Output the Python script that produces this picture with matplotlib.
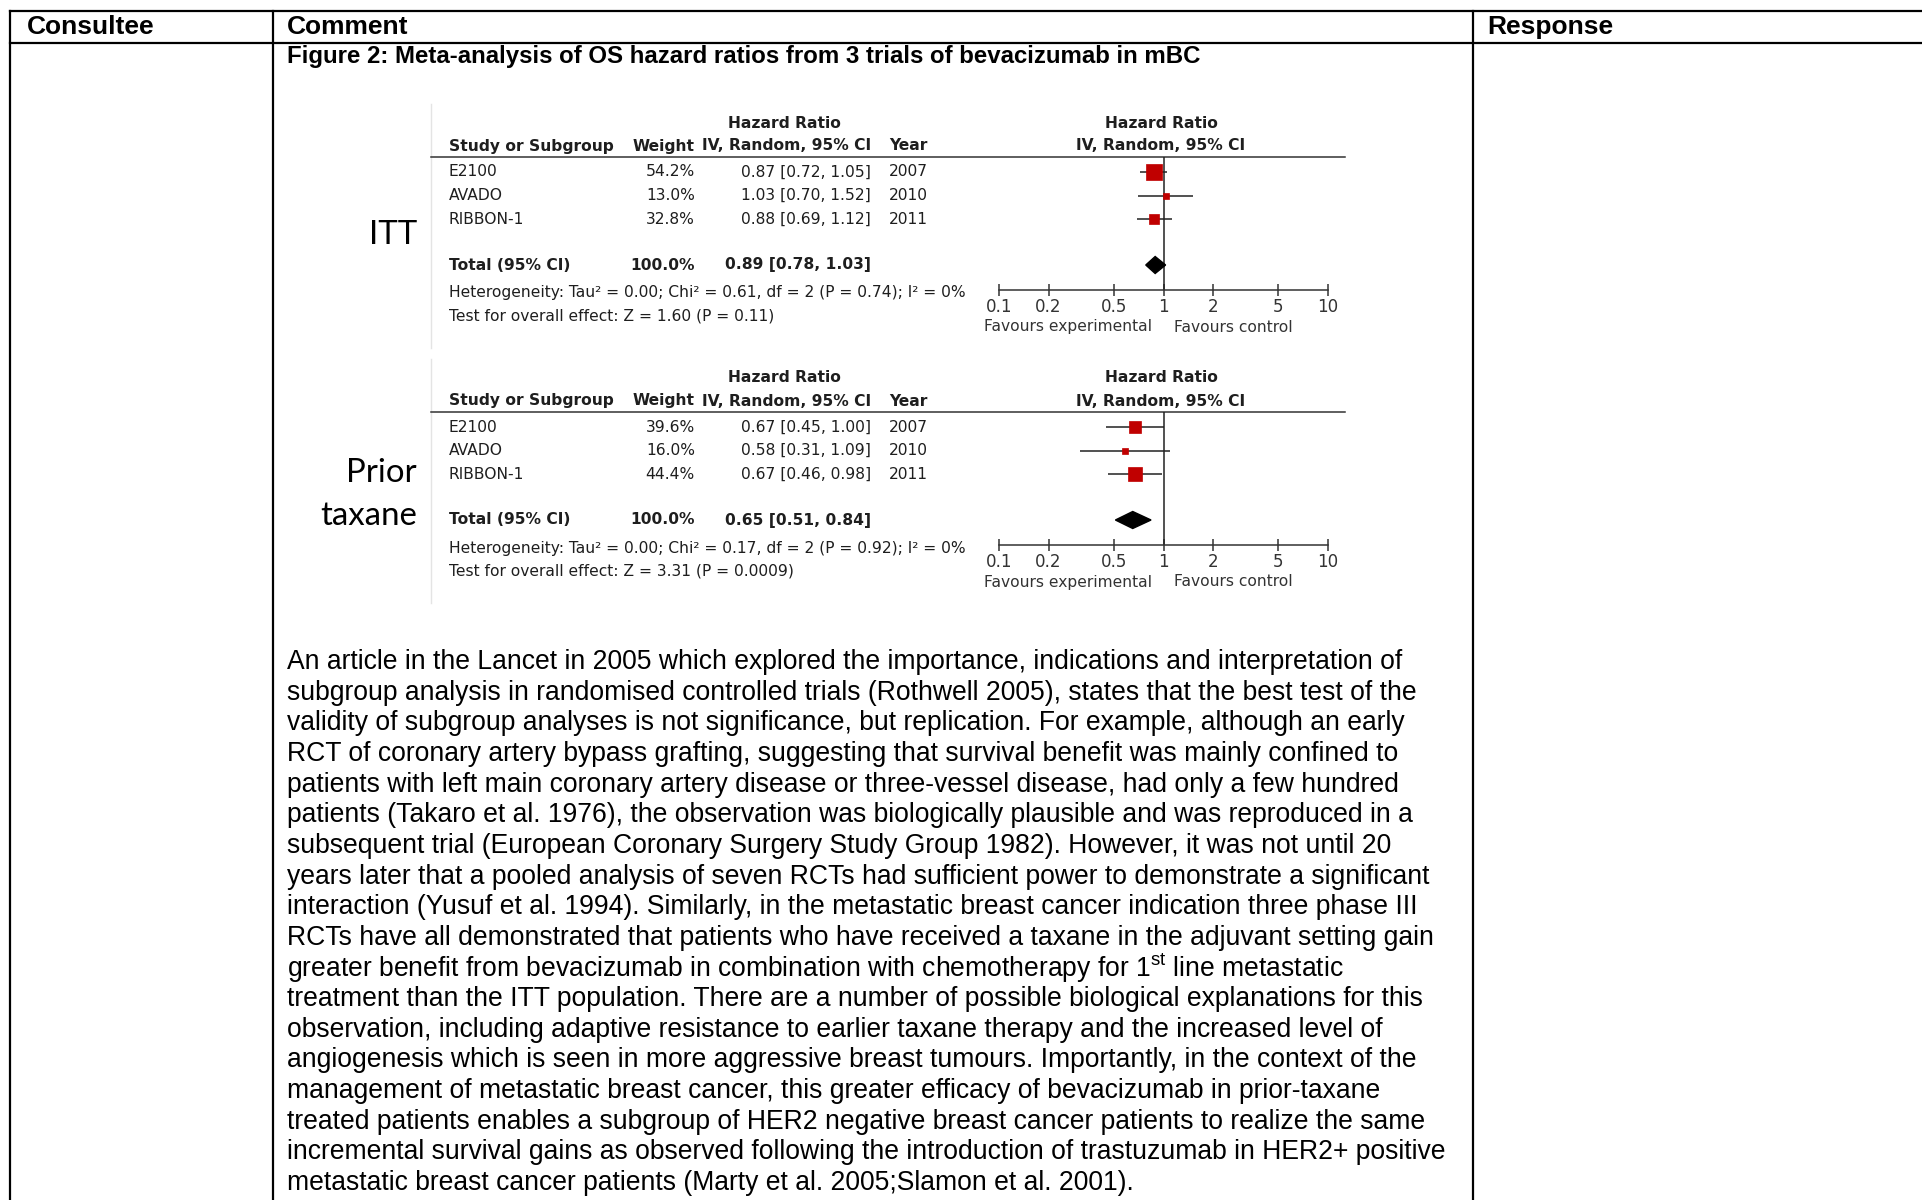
import numpy as np
import matplotlib.pyplot as plt
from matplotlib.patches import Polygon

W, H, DPI = 1922, 1200, 100

# ---- forest plot data -------------------------------------------------------
studies = ["E2100", "AVADO", "RIBBON-1"]
years = [2007, 2010, 2011]

itt_weight = [54.2, 13.0, 32.8]
itt_hr = [0.87, 1.03, 0.88]
itt_lo = [0.72, 0.70, 0.69]
itt_hi = [1.05, 1.52, 1.12]
itt_total = [0.89, 0.78, 1.03]
itt_het = "Heterogeneity: Tau\u00b2 = 0.00; Chi\u00b2 = 0.61, df = 2 (P = 0.74); I\u00b2 = 0%"
itt_test = "Test for overall effect: Z = 1.60 (P = 0.11)"

tax_weight = [39.6, 16.0, 44.4]
tax_hr = [0.67, 0.58, 0.67]
tax_lo = [0.45, 0.31, 0.46]
tax_hi = [1.00, 1.09, 0.98]
tax_total = [0.65, 0.51, 0.84]
tax_het = "Heterogeneity: Tau\u00b2 = 0.00; Chi\u00b2 = 0.17, df = 2 (P = 0.92); I\u00b2 = 0%"
tax_test = "Test for overall effect: Z = 3.31 (P = 0.0009)"

axis_ticks = [0.1, 0.2, 0.5, 1, 2, 5, 10]
axis_labels = ["0.1", "0.2", "0.5", "1", "2", "5", "10"]

body_lines = [
    "An article in the Lancet in 2005 which explored the importance, indications and interpretation of",
    "subgroup analysis in randomised controlled trials (Rothwell 2005), states that the best test of the",
    "validity of subgroup analyses is not significance, but replication. For example, although an early",
    "RCT of coronary artery bypass grafting, suggesting that survival benefit was mainly confined to",
    "patients with left main coronary artery disease or three-vessel disease, had only a few hundred",
    "patients (Takaro et al. 1976), the observation was biologically plausible and was reproduced in a",
    "subsequent trial (European Coronary Surgery Study Group 1982). However, it was not until 20",
    "years later that a pooled analysis of seven RCTs had sufficient power to demonstrate a significant",
    "interaction (Yusuf et al. 1994). Similarly, in the metastatic breast cancer indication three phase III",
    "RCTs have all demonstrated that patients who have received a taxane in the adjuvant setting gain",
    "greater benefit from bevacizumab in combination with chemotherapy for 1$^{\\mathrm{st}}$ line metastatic",
    "treatment than the ITT population. There are a number of possible biological explanations for this",
    "observation, including adaptive resistance to earlier taxane therapy and the increased level of",
    "angiogenesis which is seen in more aggressive breast tumours. Importantly, in the context of the",
    "management of metastatic breast cancer, this greater efficacy of bevacizumab in prior-taxane",
    "treated patients enables a subgroup of HER2 negative breast cancer patients to realize the same",
    "incremental survival gains as observed following the introduction of trastuzumab in HER2+ positive",
    "metastatic breast cancer patients (Marty et al. 2005;Slamon et al. 2001).",
]

plt.rcParams['mathtext.fontset'] = 'custom'
plt.rcParams['mathtext.rm'] = 'Liberation Sans'

fig = plt.figure(figsize=(W / DPI, H / DPI), dpi=DPI)
page = fig.add_axes([0, 0, 1, 1])
page.set_xlim(0, W)
page.set_ylim(H, 0)
page.axis('off')
renderer = fig.canvas.get_renderer()


def fit_size(s, width, **kw):
    # font size that makes the string about `width` pixels wide
    t = page.text(0, 0, s, fontsize=10, **kw)
    w = t.get_window_extent(renderer).width
    t.remove()
    return 10 * width / w


# ---- table frame ------------------------------------------------------------
lw = 1.6
page.plot([10, W], [11, 11], color='black', lw=lw)
page.plot([10, W], [43, 43], color='black', lw=lw)
for x in [10, 273, 1473]:
    page.plot([x, x], [11, H], color='black', lw=lw)

head_fs = fit_size("Response", 126, family='Liberation Sans', weight='bold')
for x, s in [(27, "Consultee"), (287, "Comment"), (1487, "Response")]:
    page.text(x, 27, s, family='Liberation Sans', weight='bold', fontsize=head_fs, va='center')

title = "Figure 2: Meta-analysis of OS hazard ratios from 3 trials of bevacizumab in mBC"
title_fs = fit_size(title, 913, family='Liberation Sans', weight='bold')
page.text(287, 57, title, family='Liberation Sans', weight='bold', fontsize=title_fs, va='center')

# ---- forest plots -----------------------------------------------------------
ffam = 'DejaVu Sans'
fcol = '#1e1e1e'
ffs = fit_size(itt_het, 518, family=ffam)
lab_fs = fit_size("taxane", 97, family='Lato')

panels = [
    (0, itt_weight, itt_hr, itt_lo, itt_hi, itt_total, itt_het, itt_test),
    (255, tax_weight, tax_hr, tax_lo, tax_hi, tax_total, tax_het, tax_test),
]

row_y0, row_step = 172, 23.6
ax_left, ax_right = 999, 1328
top_line, axis_line = 157, 290
total_idx = (265 - row_y0) / row_step

for off, wts, hr, lo, hi, tot, het, test in panels:
    # faint edge of the pasted image
    page.plot([431, 431], [off + 104, off + 348], color='#e4e4e4', lw=1)

    page.text(784, off + 123, "Hazard Ratio", family=ffam, weight='bold', fontsize=ffs, color=fcol,
              ha='center', va='center')
    page.text(1161, off + 123, "Hazard Ratio", family=ffam, weight='bold', fontsize=ffs, color=fcol,
              ha='center', va='center')
    hy = off + 146
    page.text(449, hy, "Study or Subgroup", family=ffam, weight='bold', fontsize=ffs, color=fcol, va='center')
    page.text(695, hy, "Weight", family=ffam, weight='bold', fontsize=ffs, color=fcol, va='center', ha='right')
    page.text(871, hy, "IV, Random, 95% CI", family=ffam, weight='bold', fontsize=ffs, color=fcol,
              va='center', ha='right')
    page.text(889, hy, "Year", family=ffam, weight='bold', fontsize=ffs, color=fcol, va='center')
    page.text(1161, hy, "IV, Random, 95% CI", family=ffam, weight='bold', fontsize=ffs, color=fcol,
              va='center', ha='center')
    page.plot([431, 1345], [off + top_line, off + top_line], color='#333333', lw=1.1)

    for i, name in enumerate(studies):
        y = off + row_y0 + i * row_step
        page.text(449, y, name, family=ffam, fontsize=ffs, color=fcol, va='center')
        page.text(695, y, f"{wts[i]:.1f}%", family=ffam, fontsize=ffs, color=fcol, va='center', ha='right')
        page.text(871, y, f"{hr[i]:.2f} [{lo[i]:.2f}, {hi[i]:.2f}]", family=ffam, fontsize=ffs,
                  color=fcol, va='center', ha='right')
        page.text(889, y, str(years[i]), family=ffam, fontsize=ffs, color=fcol, va='center')

    ty = off + 265
    page.text(449, ty, "Total (95% CI)", family=ffam, weight='bold', fontsize=ffs, color=fcol, va='center')
    page.text(695, ty, f"{sum(wts):.1f}%", family=ffam, weight='bold', fontsize=ffs, color=fcol,
              va='center', ha='right')
    page.text(871, ty, f"{tot[0]:.2f} [{tot[1]:.2f}, {tot[2]:.2f}]", family=ffam, weight='bold',
              fontsize=ffs, color=fcol, va='center', ha='right')
    page.text(449, off + 293, het, family=ffam, fontsize=ffs, color=fcol, va='center')
    page.text(449, off + 316, test, family=ffam, fontsize=ffs, color=fcol, va='center')
    page.text(1068, off + 327, "Favours experimental", family=ffam, fontsize=ffs, color='#333333',
              va='center', ha='center')
    page.text(1233, off + 327, "Favours control", family=ffam, fontsize=ffs, color='#333333',
              va='center', ha='center')

    # plotting area
    ax = fig.add_axes([ax_left / W, 1 - (off + axis_line) / H,
                       (ax_right - ax_left) / W, (axis_line - top_line) / H])
    ax.patch.set_alpha(0)
    ax.set_xscale('log')
    ax.set_xlim(0.1, 10)
    ax.set_ylim((axis_line - row_y0) / row_step, (top_line - row_y0) / row_step)
    for sp in ['top', 'left', 'right']:
        ax.spines[sp].set_visible(False)
    ax.spines['bottom'].set_linewidth(1.1)
    ax.spines['bottom'].set_color('#333333')
    ax.set_yticks([])
    ax.set_xticks(axis_ticks)
    ax.set_xticklabels(axis_labels)
    ax.minorticks_off()
    ax.tick_params(axis='x', direction='inout', length=9, width=1.1, pad=1.5, color='#333333',
                   labelsize=ffs * 1.08, labelcolor='#333333')
    for t in ax.get_xticklabels():
        t.set_family(ffam)
    ax.axvline(1, color='#222222', lw=1.1)

    rows = np.arange(len(studies))
    ax.hlines(rows, lo, hi, color='#222222', lw=1.1, zorder=2)
    for i in rows:
        side = 2 + 0.26 * wts[i]
        ax.plot(hr[i], i, marker='s', ms=side * 72 / DPI, color='#c00000', mec='#c00000', mew=0.5,
                zorder=3)
    dh = 0.36
    diamond = Polygon([(tot[1], total_idx), (tot[0], total_idx - dh), (tot[2], total_idx),
                       (tot[0], total_idx + dh)], closed=True, color='black', zorder=3)
    ax.add_patch(diamond)

# subgroup labels
page.text(417, 235, "ITT", family='Lato', fontsize=lab_fs, ha='right', va='center')
page.text(417, 473, "Prior", family='Lato', fontsize=lab_fs, ha='right', va='center')
page.text(417, 516, "taxane", family='Lato', fontsize=lab_fs, ha='right', va='center')

# ---- body text --------------------------------------------------------------
body_fs = fit_size(body_lines[0], 1121, family='Liberation Sans')
for i, line in enumerate(body_lines):
    page.text(287, 662 + i * 30.65, line, family='Liberation Sans', fontsize=body_fs, va='center')

fig.savefig("out.png", dpi=DPI)
